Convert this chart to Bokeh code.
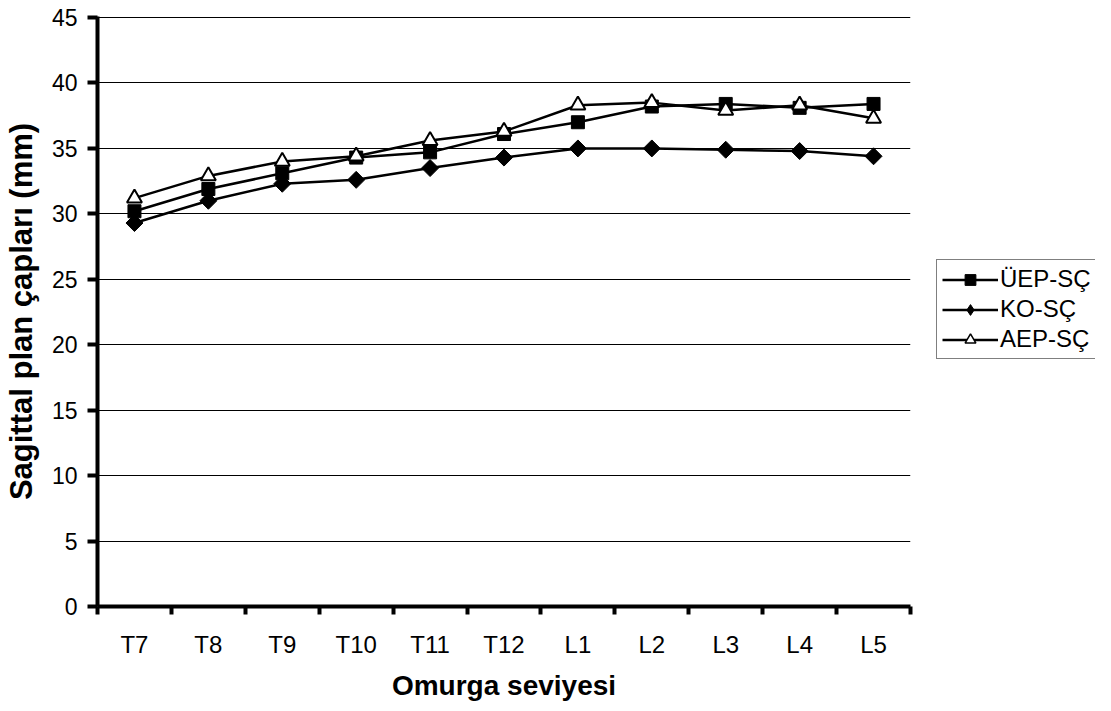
import math
from bokeh.plotting import figure
from bokeh.layouts import row
from bokeh.models import Range1d, FixedTicker, Legend, LegendItem
from bokeh.embed import file_html
from bokeh.resources import INLINE

levels = ["T7", "T8", "T9", "T10", "T11", "T12", "L1", "L2", "L3", "L4", "L5"]
uep_sc = [30.2, 31.9, 33.1, 34.3, 34.7, 36.1, 37.0, 38.2, 38.4, 38.1, 38.4]
ko_sc = [29.3, 31.0, 32.3, 32.6, 33.5, 34.3, 35.0, 35.0, 34.9, 34.8, 34.4]
aep_sc = [31.2, 32.9, 34.0, 34.4, 35.6, 36.3, 38.3, 38.5, 37.9, 38.3, 37.3]
y_ticks = [0, 5, 10, 15, 20, 25, 30, 35, 40, 45]
series_names = ["ÜEP-SÇ", "KO-SÇ", "AEP-SÇ"]

FONT = "Liberation Sans"
xs = list(range(len(levels)))

H = 703
p = figure(width=920, height=H, output_backend="svg", toolbar_location=None,
           x_range=Range1d(-0.5, len(levels) - 0.5), y_range=Range1d(0, 45.08),
           min_border_left=89, min_border_right=10, min_border_top=16, min_border_bottom=96)
p.outline_line_color = None
p.background_fill_color = "white"
p.border_fill_color = "white"

# axes
xa = p.xaxis[0]
xa.ticker = FixedTicker(ticks=xs, minor_ticks=[i - 0.5 for i in range(len(levels) + 1)])
xa.major_label_overrides = {i: lab for i, lab in zip(xs, levels)}
xa.major_tick_out = 0
xa.major_tick_in = 0
xa.minor_tick_out = 8
xa.minor_tick_in = 0
xa.minor_tick_line_width = 4
xa.minor_tick_line_color = "black"
xa.axis_line_width = 4
xa.axis_line_color = "black"
xa.major_label_text_font = FONT
xa.major_label_text_font_size = "24px"
xa.major_label_text_color = "black"
xa.major_label_standoff = 16
xa.axis_label = "Omurga seviyesi"
xa.axis_label_text_font = FONT
xa.axis_label_text_font_style = "bold"
xa.axis_label_text_font_size = "28px"
xa.axis_label_text_color = "black"
xa.axis_label_standoff = 9

ya = p.yaxis[0]
ya.ticker = FixedTicker(ticks=y_ticks)
ya.major_tick_out = 10
ya.major_tick_in = 0
ya.major_tick_line_width = 4
ya.major_tick_line_color = "black"
ya.minor_tick_out = 0
ya.minor_tick_in = 0
ya.axis_line_width = 4
ya.axis_line_color = "black"
ya.major_label_text_font = FONT
ya.major_label_text_font_size = "23px"
ya.major_label_text_color = "black"
ya.major_label_standoff = 10
ya.axis_label = "Sagittal plan çapları (mm)"
ya.axis_label_text_font = FONT
ya.axis_label_text_font_style = "bold"
ya.axis_label_text_font_size = "31px"
ya.axis_label_text_color = "black"
ya.axis_label_standoff = 10

p.xgrid.grid_line_color = None
p.ygrid.grid_line_color = "black"
p.ygrid.grid_line_width = 1
p.ygrid.ticker = FixedTicker(ticks=y_ticks)

main_styles = [
    dict(marker="square", size=13, fill_color="black", angle=0.0, line_width=1),
    dict(marker="square", size=12, fill_color="black", angle=math.pi / 4, line_width=1),
    dict(marker="triangle", size=15, fill_color="white", angle=0.0, line_width=2),
]
legend_styles = [
    dict(marker="square", size=13, fill_color="black", angle=0.0, line_width=1),
    dict(marker="diamond", size=16, fill_color="black", angle=0.0, line_width=1),
    dict(marker="triangle", size=15, fill_color="white", angle=0.0, line_width=1.5),
]
all_values = [uep_sc, ko_sc, aep_sc]


def draw(fig, xvals, styles):
    out = []
    for vals, st in zip(all_values, styles):
        ln = fig.line(xvals, vals, line_color="black", line_width=2.5)
        sc = fig.scatter(xvals, vals, marker=st["marker"], size=st["size"], angle=st["angle"],
                         fill_color=st["fill_color"], line_color="black", line_width=st["line_width"])
        out.append((ln, sc))
    return out


draw(p, xs, main_styles)

# legend panel (separate small figure; its glyphs sit outside its visible range)
q = figure(width=175, height=H, output_backend="svg", toolbar_location=None,
           x_range=Range1d(1000, 1001), y_range=Range1d(0, 45),
           x_axis_location=None, y_axis_location=None,
           min_border_left=0, min_border_right=0, min_border_top=0, min_border_bottom=0)
q.grid.visible = False
q.outline_line_color = None
q.border_fill_color = "white"
q.background_fill_color = "white"
lr = draw(q, xs, legend_styles)

legend = Legend(items=[LegendItem(label=n, renderers=list(r)) for n, r in zip(series_names, lr)],
                location=(16, 247))
legend.border_line_color = "black"
legend.border_line_width = 1
legend.label_text_font = FONT
legend.label_text_font_size = "24px"
legend.label_text_color = "black"
legend.glyph_width = 56
legend.glyph_height = 27
legend.spacing = 2
legend.padding = 5
legend.label_standoff = 2
legend.margin = 0
legend.background_fill_alpha = 1
q.add_layout(legend, "center")

layout = row(p, q)
open("out.html", "w").write(file_html(layout, INLINE))
